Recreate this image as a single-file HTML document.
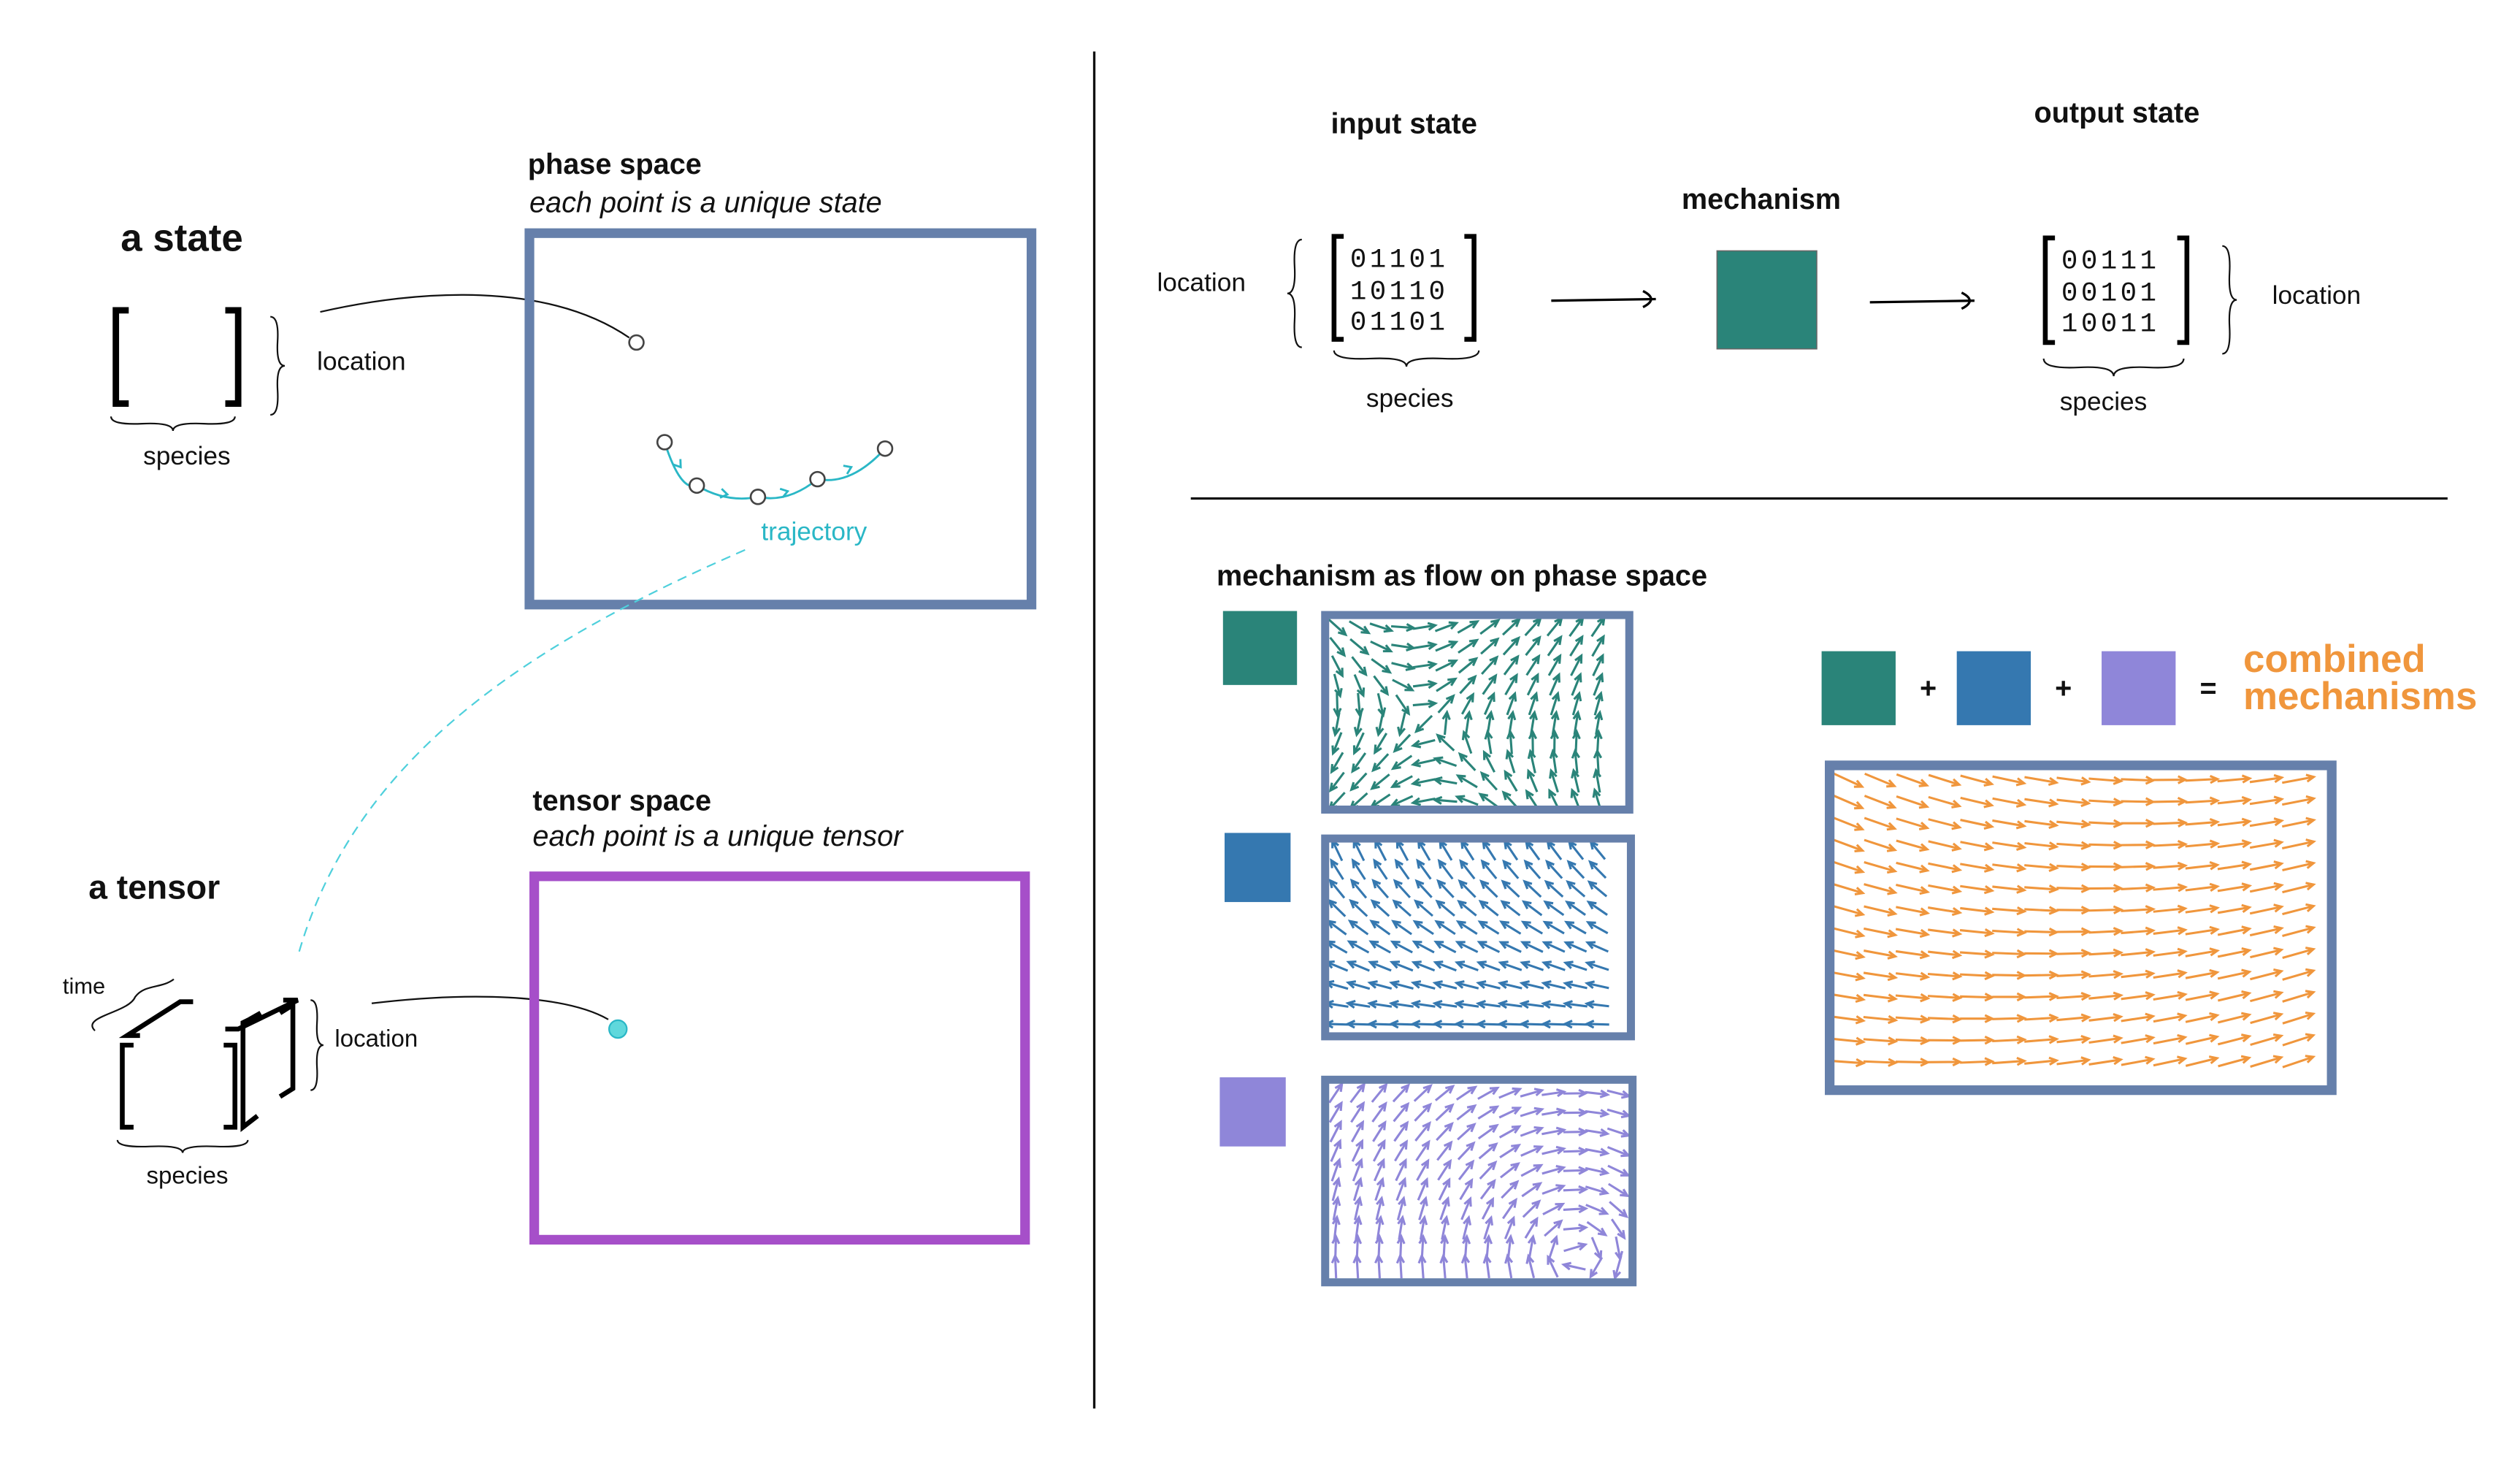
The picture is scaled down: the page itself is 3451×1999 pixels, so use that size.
<!DOCTYPE html>
<html><head><meta charset="utf-8">
<style>
html,body{margin:0;padding:0;background:#fff;}
svg{display:block;}
text{font-family:"Liberation Sans",sans-serif;fill:#111;}
.b{font-weight:bold;}
.lab{font-size:16px;}
.mono{font-family:"Liberation Mono",monospace;font-size:17px;}
</style></head>
<body>
<svg id="root" width="3451" height="1999" viewBox="0 0 1566 908" preserveAspectRatio="none" xmlns="http://www.w3.org/2000/svg">
<rect width="1566" height="908" fill="#fff"/>
<line x1="680" y1="32" x2="680" y2="876" stroke="#111" stroke-width="1.5"/>
<line x1="740" y1="310" x2="1521" y2="310" stroke="#111" stroke-width="1.5"/>

<text x="75" y="156" class="b" font-size="24">a state</text>
<path d="M80,193 L72,193 L72,251 L80,251" fill="none" stroke="#000" stroke-width="4"/>
<path d="M140,193 L148,193 L148,251 L140,251" fill="none" stroke="#000" stroke-width="4"/>
<g id="braces" fill="none" stroke="#111" stroke-width="1"></g>
<text x="197" y="230" class="lab">location</text>
<text x="89" y="289" class="lab">species</text>
<path d="M199,194 C260,180 340,175 391,210" fill="none" stroke="#111" stroke-width="1"/>

<text x="328" y="108" class="b" font-size="18">phase space</text>
<text x="329" y="132" font-size="18" font-style="italic">each point is a unique state</text>
<rect x="329" y="145" width="312" height="231" fill="none" stroke="#6680ab" stroke-width="6"/>
<g id="traj"></g>
<circle cx="395.5" cy="213" r="4.5" fill="#fff" stroke="#444" stroke-width="1.2"/>
<text x="473" y="336" font-size="16" style="fill:#2ab7c6">trajectory</text>
<path d="M463,342 C330,400 220,470 185,595" fill="none" stroke="#4fd0dc" stroke-width="1" stroke-dasharray="6,4"/>

<text x="55" y="559" class="b" font-size="21">a tensor</text>
<text x="39" y="618" font-size="14">time</text>
<text x="208" y="651" font-size="15">location</text>
<text x="91" y="736" font-size="15">species</text>
<g fill="none" stroke="#000" stroke-width="3">
<path d="M83,650 L76,650 L76,701 L83,701"/>
<path d="M139,650 L146,650 L146,701 L139,701"/>
<path d="M120,623 L112,623 L79,644 L87,644"/>
<path d="M162,630 L155,634 L151,636 L151,701 L160,694"/>
<path d="M140,640 L148,640 L185,622 L176,622"/>
<path d="M174,630 L182,625 L182,677 L174,682"/>
</g>
<path d="M231,624 C290,617 350,618 378,634" fill="none" stroke="#111" stroke-width="1"/>

<text x="331" y="504" class="b" font-size="18">tensor space</text>
<text x="331" y="526" font-size="18" font-style="italic">each point is a unique tensor</text>
<rect x="332" y="545" width="305" height="226" fill="none" stroke="#a64fc9" stroke-width="6"/>
<circle cx="384" cy="640" r="5.5" fill="#5fd8dc" stroke="#2ab7c6" stroke-width="1"/>

<text x="827" y="83" class="b" font-size="18">input state</text>
<text x="1264" y="76" class="b" font-size="18">output state</text>
<text x="1045" y="130" class="b" font-size="18">mechanism</text>
<rect x="1067" y="156" width="62" height="61" fill="#2a8479" stroke="#666" stroke-width="0.7"/>
<text x="719" y="181" class="lab">location</text>
<text x="849" y="253" class="lab">species</text>
<text x="1412" y="189" class="lab">location</text>
<text x="1280" y="255" class="lab">species</text>
<g>
<path d="M835,147 L829,147 L829,211 L835,211" fill="none" stroke="#000" stroke-width="3"/>
<path d="M910,147 L916,147 L916,211 L910,211" fill="none" stroke="#000" stroke-width="3"/>
<text x="839" y="166" class="mono" letter-spacing="2">01101</text>
<text x="839" y="186" class="mono" letter-spacing="2">10110</text>
<text x="839" y="205" class="mono" letter-spacing="2">01101</text>
</g>
<g>
<path d="M1277,148 L1271,148 L1271,213 L1277,213" fill="none" stroke="#000" stroke-width="3"/>
<path d="M1353,148 L1359,148 L1359,213 L1353,213" fill="none" stroke="#000" stroke-width="3"/>
<text x="1281" y="167" class="mono" letter-spacing="2">00111</text>
<text x="1281" y="187" class="mono" letter-spacing="2">00101</text>
<text x="1281" y="206" class="mono" letter-spacing="2">10011</text>
</g>
<g fill="none" stroke="#000" stroke-width="1.5"><path d="M964,187 L1029,186"/><path d="M1021,181 Q1031,186 1021,191"/></g>
<g fill="none" stroke="#000" stroke-width="1.5"><path d="M1162,188 L1227,187"/><path d="M1219,182 Q1229,187 1219,192"/></g>

<text x="756" y="364" class="b" font-size="18">mechanism as flow on phase space</text>
<rect x="760" y="380" width="46" height="46" fill="#2a8479"/>
<rect x="761" y="518" width="41" height="43" fill="#3578b0"/>
<rect x="758" y="670" width="41" height="43" fill="#8f86d9"/>
<g id="f1"></g>
<g id="f2"></g>
<g id="f3"></g>
<g id="f4"></g>
<rect x="823.5" y="382.5" width="189" height="121" fill="none" stroke="#6680ab" stroke-width="5"/>
<rect x="823.5" y="521.5" width="190" height="123" fill="none" stroke="#6680ab" stroke-width="5"/>
<rect x="823.5" y="671.5" width="191" height="126" fill="none" stroke="#6680ab" stroke-width="5"/>

<rect x="1132" y="405" width="46" height="46" fill="#2a8479"/>
<text x="1193" y="434" class="b" font-size="18">+</text>
<rect x="1216" y="405" width="46" height="46" fill="#3578b0"/>
<text x="1277" y="434" class="b" font-size="18">+</text>
<rect x="1306" y="405" width="46" height="46" fill="#8f86d9"/>
<text x="1367" y="434" class="b" font-size="18">=</text>
<text class="b" font-size="24" style="fill:#f0963c"><tspan x="1394" y="418">combined</tspan><tspan x="1394" y="441">mechanisms</tspan></text>
<rect x="1137" y="476" width="312" height="202" fill="none" stroke="#6680ab" stroke-width="6"/>
</svg>
<script>
var NS='http://www.w3.org/2000/svg';
function mk(t,a,p){var e=document.createElementNS(NS,t);for(var k in a)e.setAttribute(k,a[k]);p.appendChild(e);return e;}
var br=document.getElementById('braces');
function vbrace(x,y1,y2,w){var h=y2-y1,ym=(y1+y2)/2;return 'M'+x+','+y1+' Q'+(x+w*0.6)+','+y1+' '+(x+w*0.5)+','+(y1+h*0.25)+' Q'+(x+w*0.4)+','+ym+' '+(x+w)+','+ym+' Q'+(x+w*0.4)+','+ym+' '+(x+w*0.5)+','+(y2-h*0.25)+' Q'+(x+w*0.6)+','+y2+' '+x+','+y2;}
function hbrace(y,x1,x2,h){var w=x2-x1,xm=(x1+x2)/2;return 'M'+x1+','+y+' Q'+x1+','+(y+h*0.6)+' '+(x1+w*0.25)+','+(y+h*0.5)+' Q'+xm+','+(y+h*0.4)+' '+xm+','+(y+h)+' Q'+xm+','+(y+h*0.4)+' '+(x2-w*0.25)+','+(y+h*0.5)+' Q'+x2+','+(y+h*0.6)+' '+x2+','+y;}
var bl=[vbrace(168,197,258,9),hbrace(259,69,146,9),vbrace(1381,153,220,9),hbrace(223,1270,1357,11),vbrace(809,149,216,-9),hbrace(218,829,919,10),vbrace(193,622,678,8),hbrace(709,73,154,8)];
bl.forEach(function(d){var p=mk('path',{d:d},br);});
var tb=mk('path',{d:'M59,641 C50,632 80,630 84,620 C90,612 100,615 108,609',fill:'none',stroke:'#111','stroke-width':1},br);

var trajX=[413,433,471,508,550];
var trajY=[275,302,309,298,279];
var tg=document.getElementById('traj');
for(var i=0;i<trajX.length-1;i++){
 var x1=trajX[i],y1=trajY[i],x2=trajX[i+1],y2=trajY[i+1];
 var l=mk('path',{d:'M'+x1+','+y1+' Q'+((x1+x2)/2)+','+(Math.max(y1,y2)+4)+' '+x2+','+y2,fill:'none',stroke:'#2ab7c6','stroke-width':1.3},tg);
 
 var mx=(x1+x2)/2,my=(y1+y2)/2+2,a=Math.atan2(y2-y1,x2-x1);
 var h=mk('path',{d:'M'+(mx-5*Math.cos(a-0.6))+','+(my-5*Math.sin(a-0.6))+' L'+mx+','+my+' L'+(mx-5*Math.cos(a+0.6))+','+(my-5*Math.sin(a+0.6)),fill:'none',stroke:'#2ab7c6','stroke-width':1.3},tg);
 
}
for(var i=0;i<trajX.length;i++){var c=mk('circle',{cx:trajX[i],cy:trajY[i],r:4.5,fill:'#fff',stroke:'#444','stroke-width':1.2},tg);}
function field(id,x0,y0,x1,y1,sx,sy,len,col,fn){
 var g=document.getElementById(id);
 for(var y=y0;y<=y1;y+=sy)for(var x=x0;x<=x1;x+=sx){
  var v=fn((x-x0)/(x1-x0),(y-y0)/(y1-y0),x,y);var m=Math.hypot(v[0],v[1])||1;var dx=v[0]/m,dy=v[1]/m;
  var tx=x-dx*len/2,ty=y-dy*len/2,hx=x+dx*len/2,hy=y+dy*len/2;
  var a=Math.atan2(dy,dx),hl=Math.min(5,len*0.35);
  var p=mk('path',{d:'M'+tx.toFixed(1)+','+ty.toFixed(1)+' L'+hx.toFixed(1)+','+hy.toFixed(1)+' M'+(hx-hl*Math.cos(a-0.45)).toFixed(1)+','+(hy-hl*Math.sin(a-0.45)).toFixed(1)+' L'+hx.toFixed(1)+','+hy.toFixed(1)+' L'+(hx-hl*Math.cos(a+0.45)).toFixed(1)+','+(hy-hl*Math.sin(a+0.45)).toFixed(1),fill:'none',stroke:col,'stroke-width':1.4},g);
  
 }
}
field('f1',831,390,1006,498,13.5,12,14,'#2a8479',function(fx,fy,x,y){var u=(x-886)/50,v=(449-y)/50;var vx=(u+v)-(u-v)*0.7,vy=(u+v)+(u-v)*0.7;return [vx,-vy];});
field('f2',831,529,1006,640,13.5,12,14,'#3578b0',function(fx,fy){var ang=(180-(65-15*fx)*(1-fy))*Math.PI/180;return [Math.cos(ang),-Math.sin(ang)];});
field('f3',830,680,1008,792,13.5,12,14,'#8f86d9',function(fx,fy,x,y){var dx=x-980,dy=y-781;return [-dy,dx];});
field('f4',1148,485,1440,670,20,13.5,20,'#f0963c',function(fx,fy){var ang=(-25+22*fy+fx*(37-14*fy))*Math.PI/180;return [Math.cos(ang),-Math.sin(ang)];});
</script>
</body></html>
